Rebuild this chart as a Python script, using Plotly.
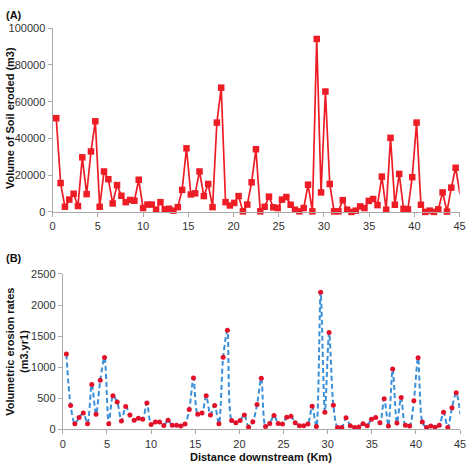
import plotly.graph_objects as go

distance_km = [0.40, 0.88, 1.36, 1.84, 2.32, 2.80, 3.28, 3.76, 4.24, 4.72,
               5.20, 5.68, 6.16, 6.64, 7.12, 7.60, 8.08, 8.56, 9.04, 9.52,
               10.00, 10.48, 10.96, 11.44, 11.92, 12.40, 12.88, 13.36, 13.84, 14.32,
               14.80, 15.28, 15.76, 16.24, 16.72, 17.20, 17.68, 18.16, 18.64, 19.12,
               19.60, 20.08, 20.56, 21.04, 21.52, 22.00, 22.48, 22.96, 23.44, 23.92,
               24.40, 24.88, 25.36, 25.84, 26.32, 26.80, 27.28, 27.76, 28.24, 28.72,
               29.20, 29.68, 30.16, 30.64, 31.12, 31.60, 32.08, 32.56, 33.04, 33.52,
               34.00, 34.48, 34.96, 35.44, 35.92, 36.40, 36.88, 37.36, 37.84, 38.32,
               38.80, 39.28, 39.76, 40.24, 40.72, 41.20, 41.68, 42.16, 42.64, 43.12,
               43.60, 44.08, 44.56, 45.04]

soil_eroded_m3 = [51000, 15700, 2800, 6700, 9900, 3200, 29700, 9700, 32900, 49300,
                  2800, 22000, 17800, 4600, 14600, 8800, 5300, 6500, 6100, 17500,
                  2100, 4000, 4000, 1200, 5300, 1400, 1700, 700, 2600, 12000,
                  34600, 9500, 10100, 22000, 8600, 15200, 2600, 48600, 67600, 5300,
                  3500, 4900, 8600, 300, 4000, 16100, 34100, 300, 2800, 8300,
                  2500, 2100, 6700, 8100, 3900, 1200, 300, 2100, 14800, 300,
                  94100, 10600, 65500, 15200, 300, 300, 6400, 1200, 0, 700,
                  3000, 2100, 6000, 7000, 3700, 19200, 1200, 40300, 3900, 20700,
                  1700, 1400, 18900, 48600, 3900, 0, 700, 0, 1400, 10600,
                  200, 13200, 24000, 9700]

erosion_rate = [1210, 382, 89, 188, 261, 89, 722, 241, 790, 1156,
                89, 539, 439, 131, 366, 230, 146, 178, 162, 424,
                78, 115, 115, 60, 146, 63, 63, 52, 84, 319,
                826, 241, 261, 539, 230, 382, 89, 1161, 1595, 141,
                105, 141, 230, 37, 120, 397, 821, 42, 94, 220,
                94, 84, 194, 209, 105, 58, 58, 84, 371, 42,
                2207, 272, 1559, 387, 26, 26, 183, 58, 26, 37,
                89, 58, 162, 188, 105, 492, 52, 968, 99, 513,
                63, 52, 460, 1151, 115, 26, 52, 31, 63, 272,
                26, 345, 586, 241]

x_ticks = [0, 5, 10, 15, 20, 25, 30, 35, 40, 45]
ya_ticks = [0, 20000, 40000, 60000, 80000, 100000]
yb_ticks = [0, 500, 1000, 1500, 2000, 2500]

W, H = 472, 471
FONT = "Liberation Sans, Arial, sans-serif"
AXC = "#aaaaaa"
TXT = "#333333"

fig = go.Figure()
fig.add_trace(go.Scatter(
    x=distance_km, y=soil_eroded_m3, mode="lines+markers",
    line=dict(color="#ee1c25", width=1.7),
    marker=dict(symbol="square", size=6.5, color="#ee1c25"),
    cliponaxis=False, xaxis="x", yaxis="y", showlegend=False))
fig.add_trace(go.Scatter(
    x=distance_km, y=erosion_rate, mode="lines+markers",
    line=dict(color="#3a8fd9", width=2, dash="5px,3px", shape="spline", smoothing=0.8),
    marker=dict(symbol="circle", size=5, color="#e3102a"),
    cliponaxis=False, xaxis="x2", yaxis="y2", showlegend=False))

def px_x(p):
    return p / W

def px_y(p):
    return (H - p) / H

common_axis = dict(showgrid=False, zeroline=False, showline=True, linecolor=AXC,
                   linewidth=1.2, ticks="outside", ticklen=4, tickcolor=AXC,
                   tickfont=dict(family=FONT, size=11, color=TXT))

fig.update_layout(
    width=W, height=H, margin=dict(l=0, r=0, t=0, b=0),
    paper_bgcolor="white", plot_bgcolor="white",
    xaxis=dict(domain=[px_x(50.6), px_x(465.5)], range=[0, 45], tickvals=x_ticks,
               anchor="y", **common_axis),
    yaxis=dict(domain=[px_y(211.3), px_y(22.7)], range=[0, 100000], tickvals=ya_ticks,
               tickformat="d", anchor="x", **common_axis),
    xaxis2=dict(domain=[px_x(61), px_x(466)], range=[0, 45], tickvals=x_ticks,
                anchor="y2", **common_axis),
    yaxis2=dict(domain=[px_y(434.3), px_y(275)], range=[0, 2500], tickvals=yb_ticks,
                tickformat="d", anchor="x2", **common_axis),
)

ann = [
    dict(text="<b>(A)</b>", x=px_x(1), y=px_y(1), xanchor="left", yanchor="top",
         font=dict(size=11)),
    dict(text="<b>(B)</b>", x=px_x(1), y=px_y(250), xanchor="left", yanchor="top",
         font=dict(size=11)),
    dict(text="<b>Volume of Soil eroded (m3)</b>", x=px_x(7), y=px_y(115),
         textangle=-90, xanchor="center", yanchor="middle", font=dict(size=11)),
    dict(text="<b>Volumetric erosion rates<br>(m3.yr1)</b>", x=px_x(14), y=px_y(355),
         textangle=-90, xanchor="center", yanchor="middle", font=dict(size=11)),
    dict(text="<b>Distance downstream (Km)</b>", x=px_x(263), y=px_y(463),
         xanchor="center", yanchor="middle", font=dict(size=11)),
]
for a in ann:
    a.update(xref="paper", yref="paper", showarrow=False)
    a["font"].update(family=FONT, color="#111111")
fig.update_layout(annotations=ann)

fig.write_html("out.html", config={"displayModeBar": False},
               post_script="document.body.style.margin='0';document.body.style.padding='0';")
